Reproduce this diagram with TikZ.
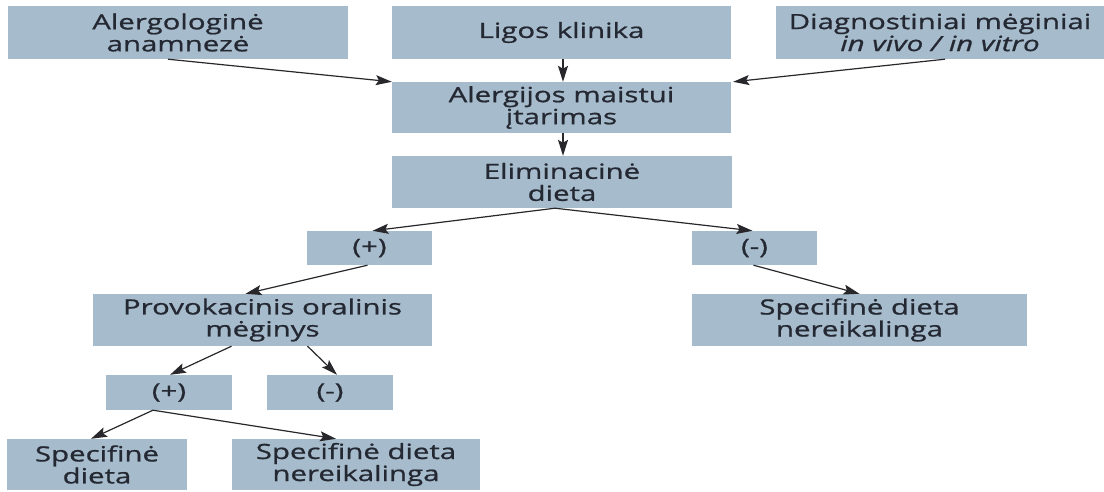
\documentclass[tikz,border=0pt]{standalone}
\usepackage{fontspec}
\setmainfont{Open Sans}[FakeStretch=1.4,FakeBold=0.9]
\usetikzlibrary{arrows.meta}
\definecolor{boxfill}{RGB}{166,187,203}
\definecolor{boxtext}{RGB}{36,40,50}
\definecolor{arrowcol}{RGB}{40,40,44}
\begin{document}
\begin{tikzpicture}[x=1pt,y=-1pt,
  box/.style={fill=boxfill, draw=none, inner sep=0pt, align=center,
    text=boxtext, font=\fontsize{21}{22}\selectfont},
  arr/.style={draw=arrowcol, line width=1.2pt,
    -{Stealth[length=16pt,width=10pt,inset=3pt]}}]
\useasboundingbox (0,0) rectangle (1104,492);
\fill[white] (0,0) rectangle (1104,492);
% top row
\node[box, minimum width=340pt, minimum height=53pt] (A1) at (178,32.5) {Alergologinė\\anamnezė};
\node[box, minimum width=339pt, minimum height=53pt] (A2) at (561.5,32.5) {Ligos klinika};
\node[box, minimum width=328pt, minimum height=53pt] (A3) at (940,32.5) {Diagnostiniai mėginiai\\\textit{in vivo / in vitro}};
% middle
\node[box, minimum width=339pt, minimum height=51pt] (B) at (561.5,107.5) {Alergijos maistui\\įtarimas};
\node[box, minimum width=340pt, minimum height=52pt] (C) at (562,182) {Eliminacinė\\dieta};
\node[box, minimum width=125pt, minimum height=34pt] (Dp) at (369.5,248) {(+)};
\node[box, minimum width=125pt, minimum height=34pt] (Dm) at (754.5,248) {(-)};
\node[box, minimum width=339pt, minimum height=52pt] (E) at (262.5,320) {Provokacinis oralinis\\mėginys};
\node[box, minimum width=335pt, minimum height=52pt] (F) at (859.5,320) {Specifinė dieta\\nereikalinga};
\node[box, minimum width=126pt, minimum height=35pt] (Gp) at (169,392.5) {(+)};
\node[box, minimum width=126pt, minimum height=35pt] (Gm) at (330,392.5) {(-)};
\node[box, minimum width=180pt, minimum height=51pt] (H1) at (97,464.5) {Specifinė\\dieta};
\node[box, minimum width=248pt, minimum height=51pt] (H2) at (356,464.5) {Specifinė dieta\\nereikalinga};
% connectors
\draw[arr] ([xshift=-10pt]A1.south) -- (B.north west);
\draw[arr] ([xshift=1.5pt]A2.south) -- ([xshift=1.5pt]B.north);
\draw[arr] ([xshift=5pt]A3.south) -- ([xshift=2pt]B.north east);
\draw[arr] ([xshift=1.5pt]B.south) -- ([xshift=1pt]C.north);
\draw[arr] ([xshift=-7pt]C.south) -- ([xshift=3pt]Dp.north);
\draw[arr] ([xshift=-7pt]C.south) -- ([xshift=-2pt]Dm.north);
\draw[arr] ([xshift=-2pt]Dp.south) -- ([xshift=-17pt]E.north);
\draw[arr] ([xshift=-1pt]Dm.south) -- (F.north);
\draw[arr] ([xshift=-31pt]E.south) -- ([xshift=1pt]Gp.north);
\draw[arr] ([xshift=45pt]E.south) -- ([xshift=7pt]Gm.north);
\draw[arr] ([xshift=-16pt]Gp.south) -- ([xshift=-6pt]H1.north);
\draw[arr] ([xshift=-16pt]Gp.south) -- ([xshift=-20pt]H2.north);
\end{tikzpicture}
\end{document}
